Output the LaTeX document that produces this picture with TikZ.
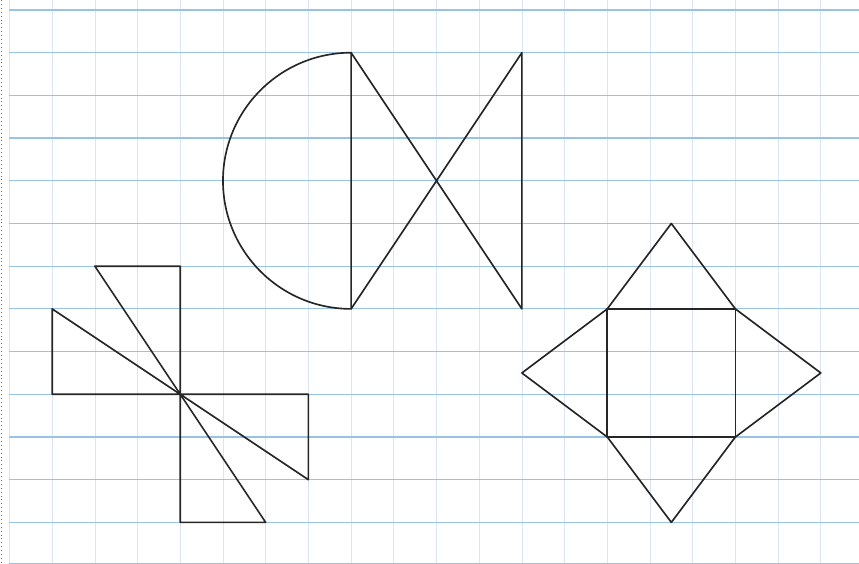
\documentclass[tikz,border=0pt]{standalone}
\usepackage{xcolor}
\usepackage{tikz}
\usetikzlibrary{calc}

\definecolor{gridrow}{RGB}{150,195,232}
\definecolor{gridcol}{RGB}{218,228,242}

\begin{document}
\begin{tikzpicture}[
      y=-1cm,
      gridv/.style={draw=gridcol, line width=0.5pt},
      gridh/.style={draw=gridrow, line width=0.8pt},
      figure/.style={draw=black!85, line width=1.1pt, line join=round}
    ]
      \useasboundingbox (-0.222,-0.234) rectangle (19.895,12.974);
      % squared paper
      \foreach \i in {0,...,19}
        \draw[gridv] (\i,-0.234) -- (\i,12.974);
      \foreach \j in {0,...,12}
        \draw[gridh] (0,\j) -- (19.895,\j);
      \draw[gridh] (0,12.955) -- (19.895,12.955);
      \draw[dotted, black!60, line width=0.6pt] (-0.19,-0.234) -- (-0.19,12.974);

      % half disc with bow tie
      \coordinate (top) at (8,1);
      \coordinate (bot) at (8,7);
      \coordinate (tiea) at (12,1);
      \coordinate (tieb) at (12,7);
      \draw[figure] (top) arc[start angle=270, end angle=90, radius=3] -- cycle;
      \draw[figure] (top) -- (tieb) -- (tiea) -- (bot);

      % pinwheel
      \coordinate (hub) at (4,9);
      \draw[figure] (hub) -- (2,6) -- (4,6) -- cycle;
      \draw[figure] (hub) -- (1,7) -- (1,9) -- cycle;
      \draw[figure] (hub) -- (7,9) -- (7,11) -- cycle;
      \draw[figure] (hub) -- (4,12) -- (6,12) -- cycle;

      % square with four points
      \coordinate (sqa) at (14,7);
      \coordinate (sqb) at (17,7);
      \coordinate (sqc) at (17,10);
      \coordinate (sqd) at (14,10);
      \draw[figure] (sqa) -- (sqb) -- (sqc) -- (sqd) -- cycle;
      \draw[figure] (sqa) -- (15.5,5) -- (sqb) -- (19,8.5) -- (sqc)
        -- (15.5,12) -- (sqd) -- (12,8.5) -- cycle;
    \end{tikzpicture}
\end{document}
